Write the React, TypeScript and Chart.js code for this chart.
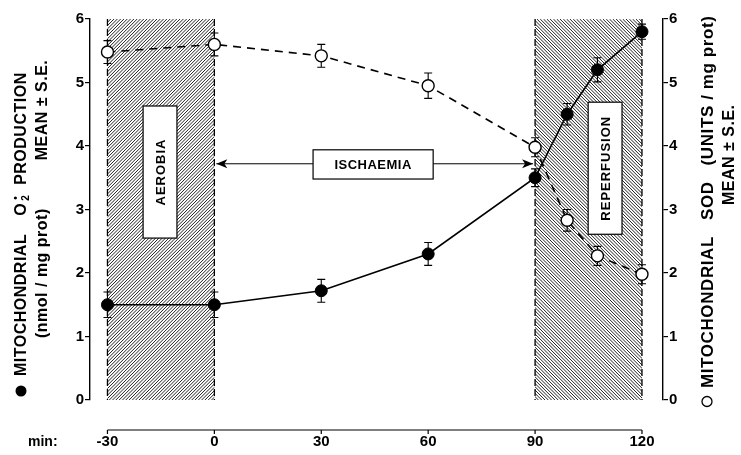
import React, { useEffect, useRef } from 'react';
import { Chart, registerables } from 'chart.js';
Chart.register(...registerables);

const times = [-30, 0, 30, 60, 90, 99, 107.5, 120];
const o2Production = [1.5, 1.5, 1.72, 2.3, 3.5, 4.5, 5.2, 5.8];
const o2Err = [0.2, 0.2, 0.18, 0.18, 0.14, 0.17, 0.19, 0.12];
const sodActivity = [5.48, 5.6, 5.42, 4.95, 3.98, 2.83, 2.27, 1.98];
const sodErr = [0.18, 0.18, 0.18, 0.2, 0.15, 0.17, 0.15, 0.15];
const xTicks = [-30, 0, 30, 60, 90, 120];
const phases = [
  { label: 'AEROBIA', from: -30, to: 0, dir: 1, box: [-20, -10.5, 2.55, 4.63] },
  { label: 'REPERFUSION', from: 90, to: 120, dir: -1, box: [104.9, 114.4, 2.61, 4.69] },
];
const ischaemia = { label: 'ISCHAEMIA', from: 0, to: 90, box: [27.7, 61.4, 3.48, 3.94], arrowY: 3.72 };

const FONT = "'Liberation Sans', Arial, Helvetica, sans-serif";

const decor = {
  id: 'decor',
  beforeDatasetsDraw(chart: any) {
    const { ctx, scales } = chart;
    const x = scales.x, y = scales.y, y2 = scales.y2;
    const yT = y.getPixelForValue(6), yB = y.getPixelForValue(0);
    phases.forEach((p) => {
      const x0 = x.getPixelForValue(p.from), x1 = x.getPixelForValue(p.to);
      ctx.save();
      ctx.beginPath();
      ctx.rect(x0, yT, x1 - x0, yB - yT);
      ctx.clip();
      ctx.strokeStyle = '#222';
      ctx.lineWidth = 1;
      const h = yB - yT;
      ctx.beginPath();
      for (let s = -h; s < x1 - x0 + h; s += 3.3) {
        if (p.dir > 0) { ctx.moveTo(x0 + s, yB); ctx.lineTo(x0 + s + h, yT); }
        else { ctx.moveTo(x0 + s, yT); ctx.lineTo(x0 + s + h, yB); }
      }
      ctx.stroke();
      ctx.restore();
      ctx.save();
      ctx.strokeStyle = '#000';
      ctx.lineWidth = 1.3;
      ctx.setLineDash([7, 3]);
      [x0, x1].forEach((xx) => { ctx.beginPath(); ctx.moveTo(xx, yT); ctx.lineTo(xx, yB); ctx.stroke(); });
      ctx.restore();
      const bx0 = x.getPixelForValue(p.box[0]), bx1 = x.getPixelForValue(p.box[1]);
      const by0 = y.getPixelForValue(p.box[3]), by1 = y.getPixelForValue(p.box[2]);
      ctx.save();
      ctx.fillStyle = '#fff';
      ctx.strokeStyle = '#000';
      ctx.lineWidth = 1.2;
      ctx.fillRect(bx0, by0, bx1 - bx0, by1 - by0);
      ctx.strokeRect(bx0, by0, bx1 - bx0, by1 - by0);
      ctx.translate((bx0 + bx1) / 2, (by0 + by1) / 2);
      ctx.rotate(-Math.PI / 2);
      ctx.fillStyle = '#000';
      ctx.font = `bold 13px ${FONT}`;
      ctx.textAlign = 'center';
      ctx.textBaseline = 'middle';
      (ctx as any).letterSpacing = '1px';
      ctx.fillText(p.label, 0, 1);
      ctx.restore();
    });
    {
      const b = ischaemia.box;
      const bx0 = x.getPixelForValue(b[0]), bx1 = x.getPixelForValue(b[1]);
      const by0 = y.getPixelForValue(b[3]), by1 = y.getPixelForValue(b[2]);
      const ay = y.getPixelForValue(ischaemia.arrowY);
      const ax0 = x.getPixelForValue(ischaemia.from) + 2, ax1 = x.getPixelForValue(ischaemia.to) - 2;
      ctx.save();
      ctx.strokeStyle = '#000';
      ctx.fillStyle = '#000';
      ctx.lineWidth = 1;
      ctx.beginPath();
      ctx.moveTo(bx0, ay); ctx.lineTo(ax0, ay);
      ctx.moveTo(bx1, ay); ctx.lineTo(ax1, ay);
      ctx.stroke();
      const head = (tx: number, d: number) => {
        ctx.beginPath();
        ctx.moveTo(tx, ay);
        ctx.lineTo(tx + d * 11, ay - 4.5);
        ctx.lineTo(tx + d * 8, ay);
        ctx.lineTo(tx + d * 11, ay + 4.5);
        ctx.closePath();
        ctx.fill();
      };
      head(ax0, 1);
      head(ax1, -1);
      ctx.fillStyle = '#fff';
      ctx.lineWidth = 1.2;
      ctx.fillRect(bx0, by0, bx1 - bx0, by1 - by0);
      ctx.strokeRect(bx0, by0, bx1 - bx0, by1 - by0);
      ctx.fillStyle = '#000';
      ctx.font = `bold 13px ${FONT}`;
      ctx.textAlign = 'center';
      ctx.textBaseline = 'middle';
      (ctx as any).letterSpacing = '0.5px';
      ctx.fillText(ischaemia.label, (bx0 + bx1) / 2, (by0 + by1) / 2 + 1);
      ctx.restore();
    }
    const bars = (vals: number[], errs: number[], sc: any) => {
      ctx.save();
      ctx.strokeStyle = '#000';
      ctx.lineWidth = 1.1;
      vals.forEach((v, i) => {
        const px = x.getPixelForValue(times[i]);
        const pt = sc.getPixelForValue(v + errs[i]);
        const pb = sc.getPixelForValue(v - errs[i]);
        ctx.beginPath();
        ctx.moveTo(px, pt); ctx.lineTo(px, pb);
        ctx.moveTo(px - 4, pt); ctx.lineTo(px + 4, pt);
        ctx.moveTo(px - 4, pb); ctx.lineTo(px + 4, pb);
        ctx.stroke();
      });
      ctx.restore();
    };
    bars(o2Production, o2Err, y);
    bars(sodActivity, sodErr, y2);
  },
  afterDraw(chart: any) {
    const { ctx, scales } = chart;
    const x = scales.x;
    const lx0 = x.getPixelForValue(xTicks[0]), lx1 = x.getPixelForValue(xTicks[xTicks.length - 1]);
    const ly = 430;
    ctx.save();
    ctx.strokeStyle = '#000';
    ctx.lineWidth = 1.2;
    ctx.beginPath();
    ctx.moveTo(lx0, ly); ctx.lineTo(lx1, ly);
    xTicks.forEach((t) => {
      const px = x.getPixelForValue(t);
      ctx.moveTo(px, ly); ctx.lineTo(px, ly + 4);
    });
    ctx.stroke();
    ctx.fillStyle = '#000';
    ctx.font = `bold 14px ${FONT}`;
    ctx.textAlign = 'left';
    ctx.textBaseline = 'middle';
    ctx.fillText('min:', 28, 442);
    ctx.restore();

    const rotText = (cx: number, startY: number, draw: (c: CanvasRenderingContext2D) => void) => {
      ctx.save();
      ctx.translate(cx, startY);
      ctx.rotate(-Math.PI / 2);
      ctx.fillStyle = '#000';
      ctx.strokeStyle = '#000';
      ctx.textAlign = 'left';
      ctx.textBaseline = 'middle';
      draw(ctx);
      ctx.restore();
    };
    rotText(21, 397, (c) => {
      c.beginPath(); c.arc(6, 0, 5.5, 0, Math.PI * 2); c.fill();
      c.font = `bold 16px ${FONT}`;
      (c as any).letterSpacing = '0.5px';
      let pos = 21;
      c.fillText('MITOCHONDRIAL', pos, 1);
      pos += c.measureText('MITOCHONDRIAL').width + 18;
      c.fillText('O', pos, 1);
      pos += c.measureText('O').width + 2;
      c.font = `bold 10px ${FONT}`;
      c.fillText('\u2022', pos + 1, -5);
      c.fillText('2', pos, 5);
      pos += 16;
      c.font = `bold 16px ${FONT}`;
      c.fillText('PRODUCTION', pos, 1);
    });
    rotText(42, 338, (c) => {
      c.font = `bold 16px ${FONT}`;
      (c as any).letterSpacing = '0.5px';
      const a = '(nmol / mg prot)';
      c.fillText(a, 0, 1);
      const w = c.measureText(a).width;
      c.fillText('MEAN \u00b1 S.E.', w + 48, 1);
    });
    rotText(707, 407, (c) => {
      c.lineWidth = 1.3;
      c.beginPath(); c.arc(5.5, 0, 5, 0, Math.PI * 2); c.stroke();
      c.font = `bold 17px ${FONT}`;
      (c as any).letterSpacing = '0.6px';
      c.fillText('MITOCHONDRIAL   SOD   (UNITS / mg prot)', 19, 1);
    });
    rotText(729, 205, (c) => {
      c.font = `bold 16px ${FONT}`;
      (c as any).letterSpacing = '0.5px';
      c.fillText('MEAN \u00b1 S.E.', 0, 1);
    });
  },
};

export default function App() {
  const ref = useRef<HTMLCanvasElement>(null);
  useEffect(() => {
    document.body.style.margin = '0';
    const canvas = ref.current!;
    const chart = new Chart(canvas, {
      type: 'line',
      data: {
        datasets: [
          {
            label: 'O2 production',
            data: times.map((t, i) => ({ x: t, y: o2Production[i] })),
            yAxisID: 'y',
            borderColor: '#000',
            borderWidth: 1.6,
            pointRadius: 6,
            pointBackgroundColor: '#000',
            pointBorderColor: '#000',
            pointBorderWidth: 1,
            tension: 0,
          },
          {
            label: 'SOD',
            data: times.map((t, i) => ({ x: t, y: sodActivity[i] })),
            yAxisID: 'y2',
            borderColor: '#000',
            borderWidth: 1.6,
            borderDash: [8, 6],
            pointRadius: 6,
            pointBackgroundColor: '#fff',
            pointBorderColor: '#000',
            pointBorderWidth: 1.4,
            tension: 0,
          },
        ],
      },
      options: {
        responsive: false,
        animation: false,
        layout: { padding: { top: 19, left: 0, right: 0, bottom: 0 } },
        plugins: { legend: { display: false }, tooltip: { enabled: false } },
        scales: {
          x: {
            type: 'linear',
            min: -34.9,
            max: 125.9,
            grid: { display: false, drawTicks: false },
            border: { display: false },
            ticks: { color: '#000', font: { family: FONT, size: 15, weight: 'bold' }, padding: 33, maxRotation: 0 },
            afterBuildTicks: (s: any) => { s.ticks = xTicks.map((v) => ({ value: v })); },
            afterFit: (s: any) => { s.height = 55; },
          },
          y: {
            position: 'left',
            min: 0,
            max: 6,
            ticks: { stepSize: 1, color: '#000', font: { family: FONT, size: 15, weight: 'bold' }, padding: 1 },
            grid: { drawOnChartArea: false, tickLength: 5, color: '#000', lineWidth: 1.2 },
            border: { display: true, color: '#000', width: 1.4 },
            afterFit: (s: any) => { s.width = 90; },
          },
          y2: {
            position: 'right',
            min: 0,
            max: 6,
            ticks: { stepSize: 1, color: '#000', font: { family: FONT, size: 15, weight: 'bold' }, padding: 1 },
            grid: { drawOnChartArea: false, tickLength: 5, color: '#000', lineWidth: 1.2 },
            border: { display: true, color: '#000', width: 1.4 },
            afterFit: (s: any) => { s.width = 78; },
          },
        },
      },
      plugins: [decor],
    });
    return () => chart.destroy();
  }, []);
  return (
    <div style={{ width: 741, height: 455, background: '#fff' }}>
      <canvas ref={ref} width={741} height={455} />
    </div>
  );
}
